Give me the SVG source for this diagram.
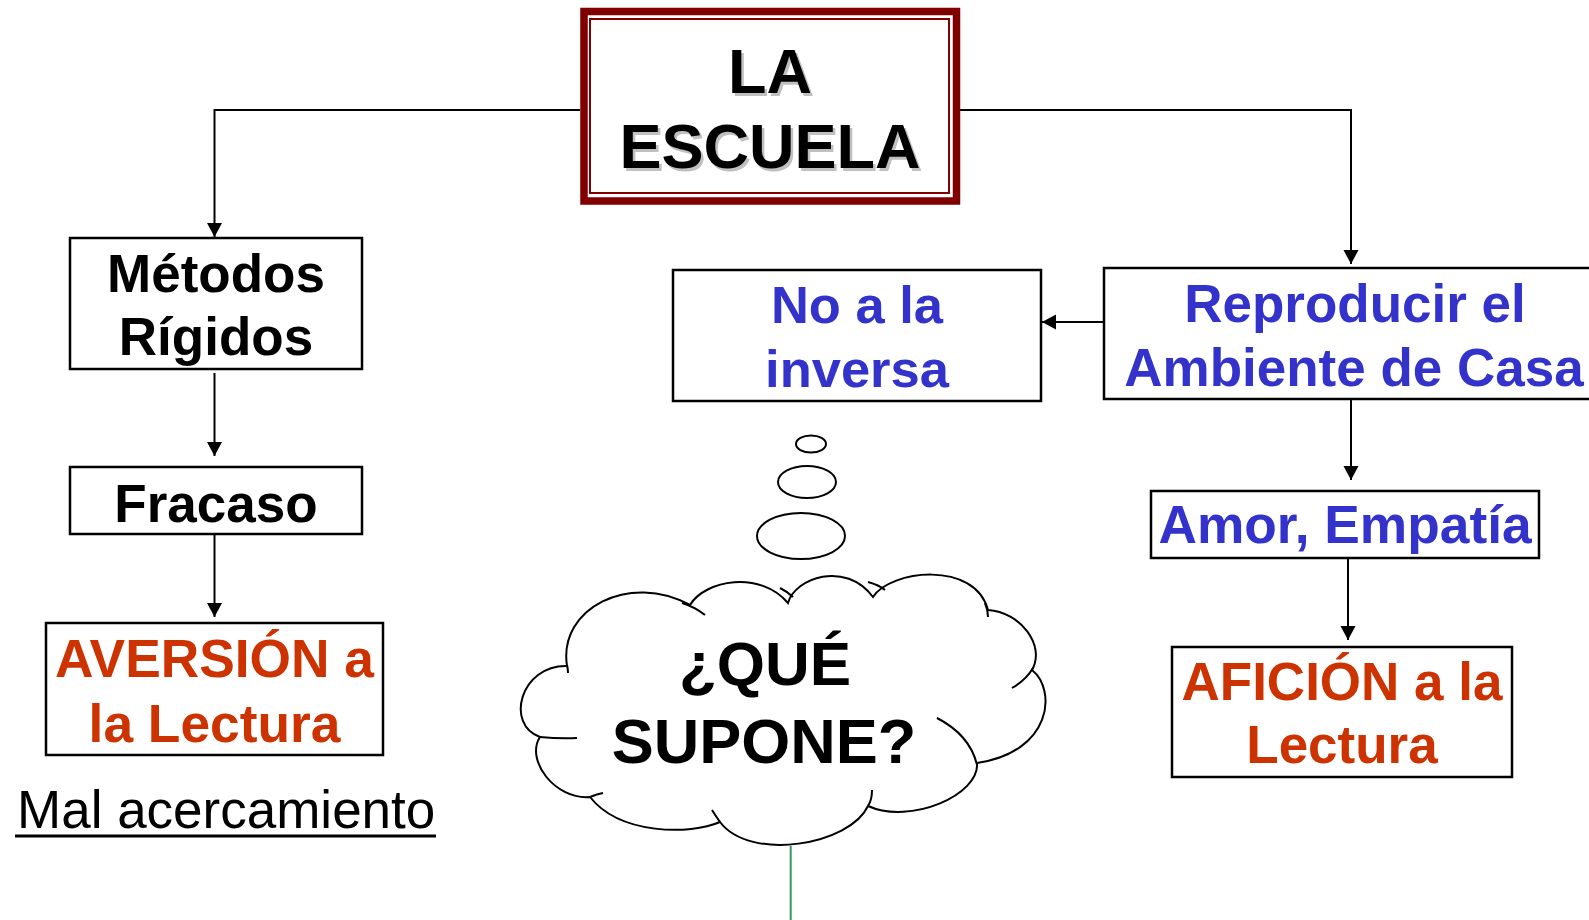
<svg xmlns="http://www.w3.org/2000/svg" width="1589" height="920" viewBox="0 0 1589 920">
<defs>
<marker id="arr" markerUnits="userSpaceOnUse" markerWidth="15" markerHeight="16" refX="14" refY="7.5" orient="auto">
<path d="M0,0 L14,7.5 L0,15 z" fill="#000"/>
</marker>
<style>
.box{fill:#fff;stroke:#000;stroke-width:2.5}
.t{font-family:"Liberation Sans",Arial,sans-serif;font-weight:bold;text-anchor:middle}
.blk{fill:#000}
.blue{fill:#3333CC}
.red{fill:#CC3300}
.conn{fill:none;stroke:#000;stroke-width:2}
.cl{fill:none;stroke:#000;stroke-width:2}
</style>
</defs>
<rect width="1589" height="920" fill="#fff"/>

<g id="connectors">
<path class="conn" d="M580,110 H214.5 V237" marker-end="url(#arr)"/>
<path class="conn" d="M960,110 H1351 V264" marker-end="url(#arr)"/>
<path class="conn" d="M214.5,373 V456" marker-end="url(#arr)"/>
<path class="conn" d="M214.5,534 V617" marker-end="url(#arr)"/>
<path class="conn" d="M1104,322 H1042" marker-end="url(#arr)"/>
<path class="conn" d="M1351,399 V480" marker-end="url(#arr)"/>
<path class="conn" d="M1348,558 V640" marker-end="url(#arr)"/>
<line x1="790.7" y1="846" x2="790.7" y2="920" stroke="#339966" stroke-width="2"/>
</g>

<g id="escuela">
<rect x="584" y="11.5" width="372.5" height="189.5" fill="#fff" stroke="#800000" stroke-width="7.5"/>
<rect x="590" y="19" width="359" height="174" fill="none" stroke="#800000" stroke-width="2"/>
<g class="t" font-size="63">
<text x="772.5" y="95.5" fill="#C0C0C0">LA</text>
<text x="772.5" y="170.5" fill="#C0C0C0">ESCUELA</text>
<text x="770" y="93" class="blk">LA</text>
<text x="770" y="168" class="blk">ESCUELA</text>
</g>
</g>

<g id="metodos">
<rect class="box" x="70" y="238" width="292" height="131"/>
<text class="t blk" font-size="53" x="216" y="292">Métodos</text>
<text class="t blk" font-size="53" x="216" y="355">Rígidos</text>
</g>

<g id="fracaso">
<rect class="box" x="70" y="467" width="292" height="67"/>
<text class="t blk" font-size="53" x="216" y="522">Fracaso</text>
</g>

<g id="aversion">
<rect class="box" x="46" y="623" width="337" height="132"/>
<text class="t red" font-size="53.3" x="214.5" y="677">AVERSIÓN a</text>
<text class="t red" font-size="53.3" x="214.5" y="742">la Lectura</text>
</g>

<g id="mal">
<text x="17" y="828" font-family="Liberation Sans,Arial,sans-serif" font-size="53" fill="#000">Mal acercamiento</text>
<rect x="15" y="834.5" width="421" height="3" fill="#000"/>
</g>

<g id="noalainversa">
<rect class="box" x="673" y="270" width="368" height="131"/>
<text class="t blue" font-size="52.5" x="857" y="323">No a la</text>
<text class="t blue" font-size="52.5" x="857" y="387">inversa</text>
</g>

<g id="reproducir">
<rect class="box" x="1104" y="268" width="500" height="131"/>
<text class="t blue" font-size="53" x="1355" y="322">Reproducir el</text>
<text class="t blue" font-size="53" x="1354" y="386">Ambiente de Casa</text>
</g>

<g id="amor">
<rect class="box" x="1151" y="491" width="388" height="67"/>
<text class="t blue" font-size="53.3" x="1345" y="543">Amor, Empatía</text>
</g>

<g id="aficion">
<rect class="box" x="1172" y="647" width="340" height="130"/>
<text class="t red" font-size="53" x="1342" y="700">AFICIÓN a la</text>
<text class="t red" font-size="53" x="1342" y="763">Lectura</text>
</g>

<g id="nube">
<ellipse class="cl" cx="811" cy="444" rx="15" ry="8.5"/>
<ellipse class="cl" cx="807" cy="482" rx="29" ry="16"/>
<ellipse class="cl" cx="801" cy="536" rx="44" ry="23"/>
<path d="M567,666 C558,608 630,572 690,605 C705,580 760,570 788,603 C795,578 845,560 873,597 C890,570 975,560 988,610 C1020,612 1046,645 1032,670 C1057,690 1052,752 977,763 C980,795 910,825 868,806 C850,845 750,862 720,822 C690,835 620,835 590,797 C555,800 525,760 540,737 C505,725 520,665 567,666 Z" fill="#fff" stroke="#000" stroke-width="2"/>
<path class="cl" d="M682,603 Q695,607 705,615 M780,588 Q788,592 793,597 M868,582 Q879,585 885,590 M985,603 Q988,610 988,617 M1033,668 Q1026,680 1012,688 M977,765 Q970,735 937,718 M872,790 Q872,800 868,806 M720,822 Q715,815 712,810 M590,797 Q597,794 603,793 M540,737 Q560,739 577,738 M567,665 Q568,669 568,673"/>
<text class="t blk" font-size="62" x="765" y="685">¿QUÉ</text>
<text class="t blk" font-size="63" x="764" y="763">SUPONE?</text>
</g>
</svg>
